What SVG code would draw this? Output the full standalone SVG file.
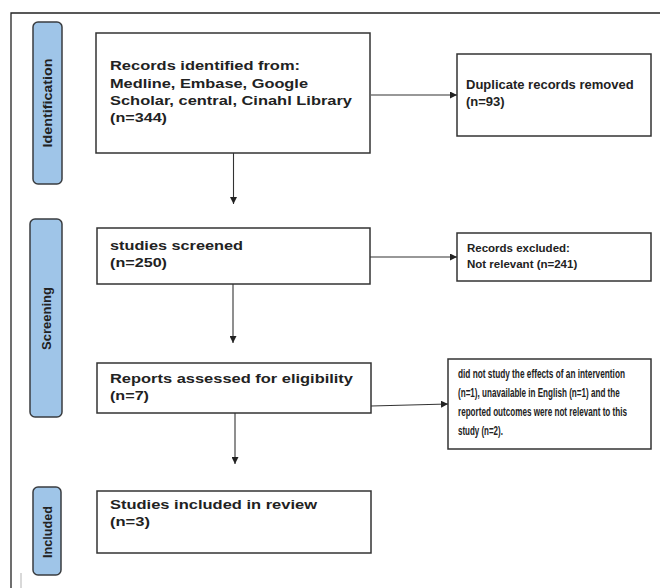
<svg xmlns="http://www.w3.org/2000/svg" width="660" height="588" viewBox="0 0 660 588">
<style>
.frame{fill:none;stroke:#222;stroke-width:1.3}
.box{fill:#fff;stroke:#333;stroke-width:1.5}
.lab{fill:#9fc5e8;stroke:#3a3d40;stroke-width:1.5}
.t{font-family:"Liberation Sans",Arial,sans-serif;font-weight:bold;font-size:13px;fill:#222}
.tw{font-family:"Liberation Sans",Arial,sans-serif;font-weight:bold;font-size:13.5px;fill:#222}
.ts{font-family:"Liberation Sans",Arial,sans-serif;font-weight:bold;font-size:11.5px;fill:#222}
.tc{font-family:"Liberation Sans",Arial,sans-serif;font-weight:bold;font-size:12.5px;fill:#222}
.conn{stroke:#333;stroke-width:1.1;fill:none;marker-end:url(#ah)}
</style>
<defs>
<marker id="ah" markerUnits="userSpaceOnUse" markerWidth="7" markerHeight="7" refX="7" refY="3.5" orient="auto">
<path d="M0,0 L7,3.5 L0,7 z" fill="#222"/>
</marker>
</defs>
<rect width="660" height="588" fill="#fff"/>
<path class="frame" d="M11,588 V13 H660"/>
<line x1="21" y1="573" x2="21" y2="588" stroke="#ccc" stroke-width="1.5"/>

<g id="label-identification">
<rect class="lab" x="33" y="22" width="29" height="162" rx="5"/>
<text class="t" transform="translate(52,103) rotate(-90)" text-anchor="middle" textLength="89" lengthAdjust="spacingAndGlyphs">Identification</text>
</g>
<g id="label-screening">
<rect class="lab" x="30" y="219" width="32" height="198" rx="5"/>
<text class="t" transform="translate(51,318.5) rotate(-90)" text-anchor="middle" textLength="63" lengthAdjust="spacingAndGlyphs">Screening</text>
</g>
<g id="label-included">
<rect class="lab" x="33" y="487" width="28" height="88" rx="5"/>
<text class="t" transform="translate(52,532) rotate(-90)" text-anchor="middle" textLength="52" lengthAdjust="spacingAndGlyphs">Included</text>
</g>

<g id="records-identified">
<rect class="box" x="96" y="33" width="274" height="120"/>
<text class="tw" x="110" y="70" textLength="190" lengthAdjust="spacingAndGlyphs">Records identified from:</text>
<text class="tw" x="110" y="88" textLength="198" lengthAdjust="spacingAndGlyphs">Medline, Embase, Google</text>
<text class="tw" x="110" y="105" textLength="242" lengthAdjust="spacingAndGlyphs">Scholar, central, Cinahl Library</text>
<text class="tw" x="110" y="122" textLength="57" lengthAdjust="spacingAndGlyphs">(n=344)</text>
</g>
<g id="duplicates-removed">
<rect class="box" x="457" y="54" width="194" height="82"/>
<text class="t" x="466" y="89">Duplicate records removed</text>
<text class="t" x="466" y="106">(n=93)</text>
</g>
<g id="studies-screened">
<rect class="box" x="97" y="228" width="273" height="56"/>
<text class="tw" x="110" y="250" textLength="133" lengthAdjust="spacingAndGlyphs">studies screened</text>
<text class="tw" x="110" y="267" textLength="57" lengthAdjust="spacingAndGlyphs">(n=250)</text>
</g>
<g id="records-excluded">
<rect class="box" x="457" y="233" width="194" height="48"/>
<text class="ts" x="467" y="252">Records excluded:</text>
<text class="ts" x="467" y="268">Not relevant (n=241)</text>
</g>
<g id="reports-assessed">
<rect class="box" x="97" y="363" width="274" height="50"/>
<text class="tw" x="110" y="383" textLength="243" lengthAdjust="spacingAndGlyphs">Reports assessed for eligibility</text>
<text class="tw" x="110" y="400" textLength="39" lengthAdjust="spacingAndGlyphs">(n=7)</text>
</g>
<g id="reports-excluded">
<rect class="box" x="448" y="359" width="203" height="90"/>
<text class="tc" transform="translate(458,378) scale(0.66,1)" textLength="253" lengthAdjust="spacingAndGlyphs">did not study the effects of an intervention</text>
<text class="tc" transform="translate(458,397) scale(0.66,1)" textLength="245" lengthAdjust="spacingAndGlyphs">(n=1), unavailable in English (n=1) and the</text>
<text class="tc" transform="translate(458,416) scale(0.66,1)" textLength="256" lengthAdjust="spacingAndGlyphs">reported outcomes were not relevant to this</text>
<text class="tc" transform="translate(458,435) scale(0.66,1)" textLength="68" lengthAdjust="spacingAndGlyphs">study (n=2).</text>
</g>
<g id="studies-included">
<rect class="box" x="97" y="491" width="274" height="62"/>
<text class="tw" x="110" y="509" textLength="207" lengthAdjust="spacingAndGlyphs">Studies included in review</text>
<text class="tw" x="110" y="526" textLength="40" lengthAdjust="spacingAndGlyphs">(n=3)</text>
</g>

<g id="connectors">
<line class="conn" x1="233.5" y1="153" x2="233.5" y2="204"/>
<line class="conn" x1="371" y1="95" x2="457" y2="95"/>
<line class="conn" x1="233" y1="284" x2="233" y2="343"/>
<line class="conn" x1="370" y1="257" x2="457" y2="257"/>
<line class="conn" x1="371" y1="406" x2="448" y2="404"/>
<line class="conn" x1="235" y1="413" x2="235" y2="464"/>
</g>
</svg>
